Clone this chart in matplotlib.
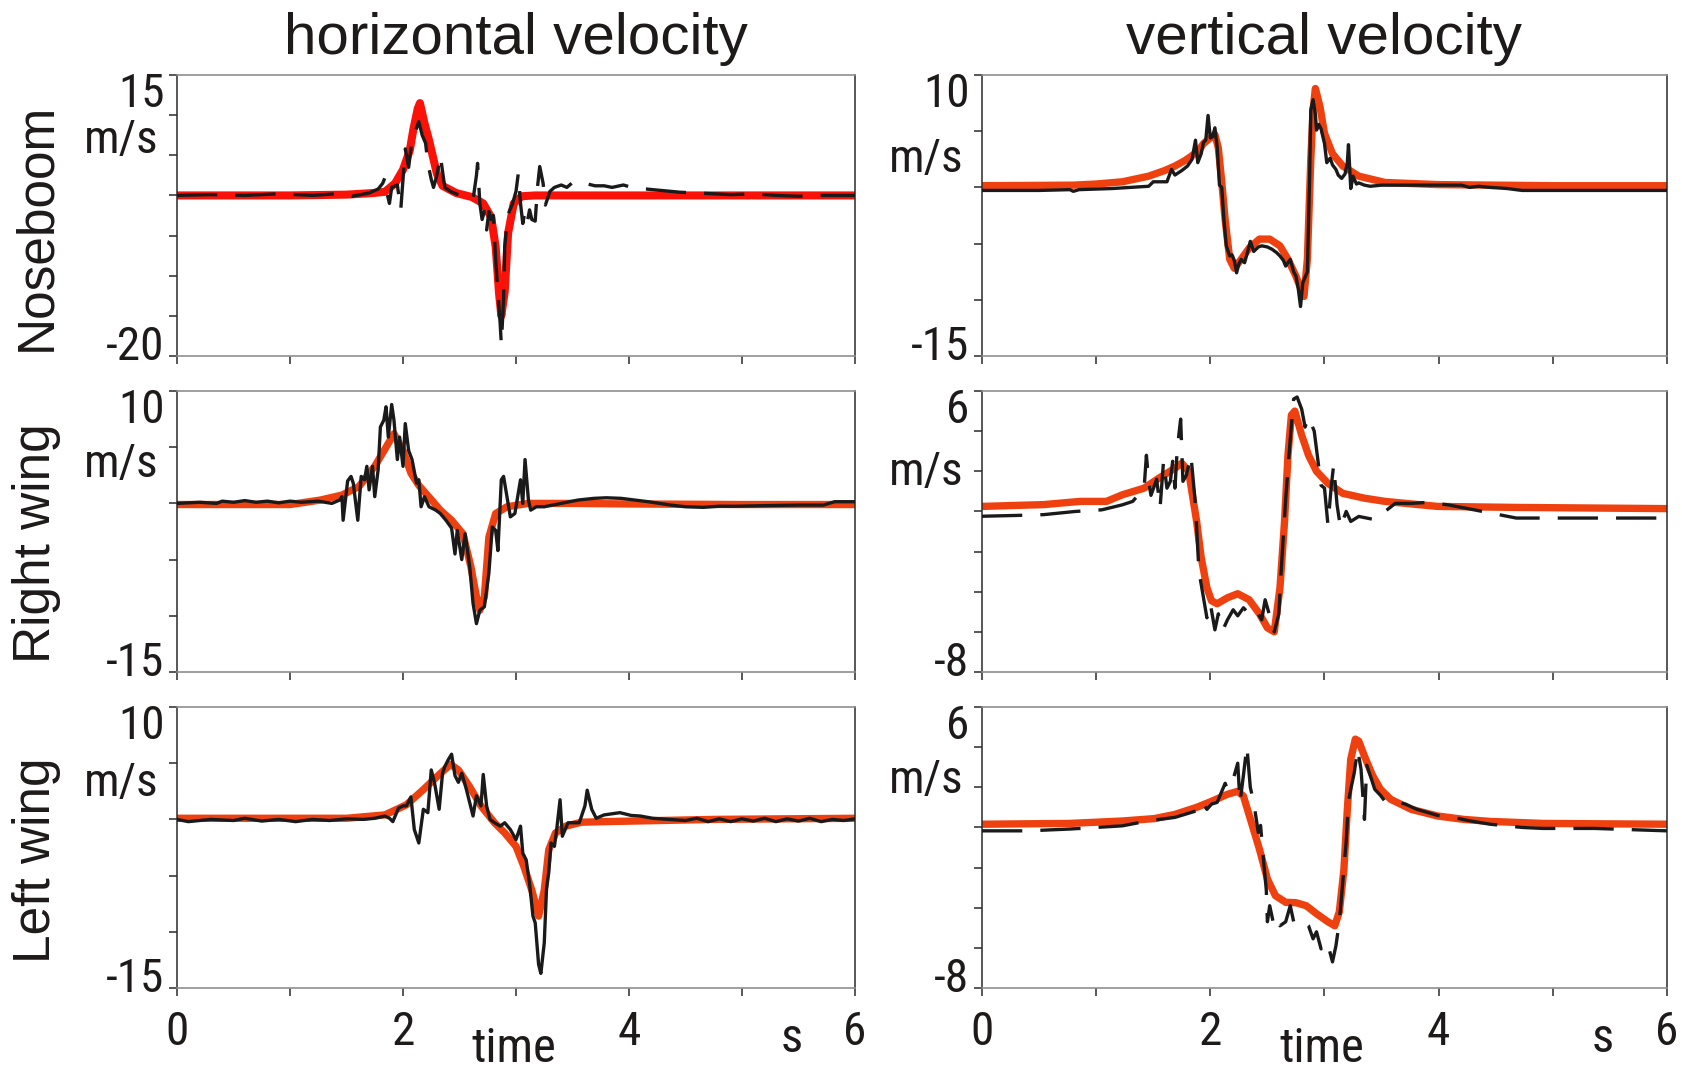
import matplotlib
matplotlib.use("Agg")
import matplotlib.pyplot as plt
import matplotlib.transforms as mtransforms

plt.rcParams["lines.scale_dashes"] = False
plt.rcParams["font.family"] = ["Liberation Sans", "DejaVu Sans"]

NARROW = ["Roboto Condensed", "Liberation Sans Narrow", "Liberation Sans", "DejaVu Sans"]
NUM_SIZE = 34
TEXT_COLOR = "#1e1a1a"

column_titles = ["horizontal velocity", "vertical velocity"]
row_labels = ["Noseboom", "Right wing", "Left wing"]
x_ticks = [0, 1, 2, 3, 4, 5, 6]
x_tick_labels = ["0", "", "2", "", "4", "", "6"]
unit_label = "m/s"
time_label = "time"
time_unit = "s"

# y ranges (bottom, top, step) per panel
nose_h_range = (-20, 15, 5)
nose_v_range = (-15, 10, 5)
right_h_range = (-15, 10, 5)
right_v_range = (-8, 6, 2)
left_h_range = (-15, 10, 5)
left_v_range = (-8, 6, 2)

# ---------------- Noseboom, horizontal ----------------
nose_h_model_t = [0, 1.0, 1.5, 1.74, 1.84, 1.93, 2.0, 2.06, 2.09, 2.13, 2.15, 2.19, 2.23, 2.30,
                  2.35, 2.47, 2.61, 2.71, 2.78, 2.82, 2.85, 2.87, 2.90, 2.93, 2.98, 3.05, 3.17,
                  3.5, 4.5, 6.0]
nose_h_model_v = [0, 0, 0.1, 0.3, 0.45, 1.5, 3.2, 5.6, 8.1, 10.8, 11.5, 9.0, 6.9, 2.7,
                  1.2, 0.3, -0.2, -1.0, -2.7, -6.4, -12.2, -15.0, -12.0, -4.7, -1.0, -0.1, 0,
                  0, 0, 0]
nose_h_meas_t = [0, 0.3, 0.6, 0.9, 1.2, 1.4, 1.55, 1.7, 1.78, 1.82, 1.84, 1.86, 1.88, 1.9, 1.95,
                 1.98, 2.0, 2.02, 2.05, 2.08, 2.11, 2.14, 2.17, 2.2, 2.22, 2.25, 2.27, 2.3, 2.33,
                 2.35, 2.37, 2.42, 2.47, 2.52, 2.58, 2.62, 2.65, 2.66, 2.68, 2.7, 2.72, 2.74,
                 2.76, 2.78, 2.8, 2.82, 2.84, 2.86, 2.87, 2.89, 2.9, 2.92, 2.94, 2.97, 3.0,
                 3.02, 3.04, 3.06, 3.08, 3.1, 3.12, 3.14, 3.17, 3.19, 3.21, 3.24, 3.26, 3.3,
                 3.34, 3.4, 3.45, 3.5, 3.55, 3.61, 3.7, 3.78, 3.85, 3.95, 4.05, 4.15, 4.3,
                 4.45, 4.6, 4.75, 4.9, 5.1, 5.3, 5.5, 5.7, 6.0]
nose_h_meas_v = [0, 0.1, 0, 0.2, 0, 0.2, -0.1, 0.3, 0.8, 1.5, 2.2, 0.2, -1.0, 1.0, 1.3,
                 -1.8, 2.0, 5.8, 3.5, 7.0, 8.0, 9.2, 7.5, 6.5, 4.0, 2.0, 1.0, 2.5, 5.0,
                 3.0, 1.0, 0.5, 0.2, -0.1, -0.3, -0.5, 2.5, 4.0, -1.0, -3.0, -2.0, -4.3,
                 -2.0, -3.0, -2.5, -8.0, -12.0, -16.0, -18.5, -13.0, -6.4, -3.5, -2.0, -1.0, 0.5,
                 2.7, -1.0, -3.5, -2.0, -3.3, -1.8, -3.0, -3.2, 1.0, 3.6, 1.5, -1.2, 0.5,
                 1.0, 1.3, 1.0, 1.6, 1.3, 1.5, 1.2, 1.2, 1.0, 1.3, 0.9, 0.8, 0.6,
                 0.4, 0.3, 0.2, 0.1, 0.2, 0, -0.1, 0, 0]

# ---------------- Noseboom, vertical ----------------
nose_v_model_t = [0, 0.8, 1.0, 1.23, 1.46, 1.6, 1.69, 1.78, 1.83, 1.90, 1.94, 2.0, 2.04, 2.07,
                  2.10, 2.13, 2.17, 2.21, 2.27, 2.34, 2.43, 2.52, 2.61, 2.68, 2.75, 2.80, 2.82,
                  2.85, 2.88, 2.90, 2.92, 2.96, 3.0, 3.07, 3.16, 3.3, 3.53, 3.99, 5.0, 6.0]
nose_v_model_v = [0.15, 0.2, 0.3, 0.5, 1.0, 1.5, 1.9, 2.4, 2.75, 3.3, 3.9, 4.4, 4.7, 3.5,
                  0.5, -2.9, -6.4, -7.2, -6.4, -5.4, -4.6, -4.6, -5.2, -6.4, -7.9, -9.2, -9.7,
                  -6.4, 2.5, 6.9, 8.8, 7.2, 4.8, 3.0, 1.9, 1.0, 0.44, 0.25, 0.15, 0.15]
nose_v_meas_t = [0, 0.5, 0.77, 0.8, 0.85, 1.14, 1.3, 1.46, 1.5, 1.62, 1.66, 1.69, 1.75, 1.8,
                 1.84, 1.87, 1.89, 1.92, 1.94, 1.96, 1.98, 2.0, 2.02, 2.04, 2.06, 2.08, 2.1,
                 2.12, 2.14, 2.17, 2.19, 2.21, 2.23, 2.25, 2.27, 2.3, 2.33, 2.35, 2.38, 2.42,
                 2.45, 2.5, 2.54, 2.58, 2.61, 2.64, 2.66, 2.7, 2.73, 2.75, 2.77, 2.79, 2.81,
                 2.83, 2.85, 2.87, 2.88, 2.9, 2.92, 2.93, 2.95, 2.97, 3.0, 3.02, 3.05, 3.07,
                 3.1, 3.12, 3.15, 3.18, 3.2, 3.21, 3.23, 3.25, 3.28, 3.3, 3.35, 3.4, 3.5,
                 3.7, 3.9, 4.2, 4.27, 4.35, 4.45, 4.6, 4.73, 5.0, 6.0]
nose_v_meas_v = [-0.27, -0.27, -0.2, -0.35, -0.2, -0.1, 0, 0.1, 0.5, 0.5, 1.6, 1.1, 1.5, 1.9,
                 2.5, 4.2, 2.2, 3.0, 4.0, 4.2, 6.4, 4.4, 4.5, 5.3, 3.6, 0.2, 0.0,
                 -3.0, -5.2, -6.1, -6.0, -6.5, -7.6, -6.8, -6.4, -6.7, -5.6, -4.8, -5.7, -5.3,
                 -5.2, -5.3, -5.5, -5.8, -6.1, -6.5, -7.0, -6.4, -7.5, -7.9, -9.0, -10.6, -8.5,
                 -8.0, -7.5, 1.0, 6.9, 7.8, 6.5, 5.1, 5.6, 5.2, 3.9, 2.2, 2.6, 2.0,
                 1.6, 1.1, 0.8, 1.2, 2.2, 3.8, -0.1, 1.0, 0.3, 0.4, 0.2, 0.1, 0.2,
                 0.2, 0.2, 0.2, 0.0, 0.1, 0.0, -0.1, -0.27, -0.27, -0.27]

# ---------------- Right wing, horizontal ----------------
right_h_model_t = [0, 1.0, 1.07, 1.27, 1.46, 1.61, 1.75, 1.85, 1.92, 2.0, 2.07, 2.14, 2.24,
                   2.33, 2.43, 2.53, 2.60, 2.65, 2.68, 2.72, 2.76, 2.82, 2.92, 3.11, 3.5, 4.0,
                   5.0, 6.0]
right_h_model_v = [-0.1, -0.1, 0, 0.3, 0.74, 1.5, 3.3, 5.0, 6.2, 4.7, 2.7, 1.6, 0.45,
                   -0.6, -1.5, -2.7, -5.6, -8.3, -9.5, -8.3, -3.0, -0.9, -0.3, 0, 0, -0.05,
                   -0.1, -0.1]
right_h_meas_t = [0, 0.2, 0.35, 0.4, 0.5, 0.6, 0.7, 0.8, 0.9, 1.0, 1.1, 1.25, 1.37, 1.44,
                  1.46, 1.47, 1.51, 1.54, 1.56, 1.6, 1.63, 1.66, 1.68, 1.7, 1.73, 1.75, 1.78,
                  1.8, 1.83, 1.85, 1.87, 1.9, 1.92, 1.95, 1.97, 2.0, 2.02, 2.05, 2.08, 2.12,
                  2.14, 2.16, 2.19, 2.23, 2.29, 2.33, 2.38, 2.43, 2.46, 2.48, 2.52, 2.55,
                  2.59, 2.62, 2.65, 2.68, 2.72, 2.76, 2.79, 2.82, 2.84, 2.87, 2.89, 2.92,
                  2.95, 2.99, 3.04, 3.06, 3.08, 3.11, 3.13, 3.18, 3.25, 3.4, 3.55, 3.69, 3.8,
                  3.93, 4.05, 4.17, 4.37, 4.5, 4.66, 4.8, 4.95, 5.2, 5.5, 5.72, 5.82, 6.0]
right_h_meas_v = [0, 0.1, 0, 0.2, 0.1, 0.25, 0.1, 0.2, 0.05, 0.2, 0.1, 0.2, 0.0, 0.3,
                  0.6, -1.5, 2.0, 2.4, 1.8, -1.5, 2.4, 2.1, 3.3, 1.2, 3.3, 0.6, 3.0,
                  6.8, 7.4, 8.6, 5.9, 8.8, 7.4, 3.9, 5.9, 3.3, 7.1, 4.7, 3.9, 1.8,
                  2.1, -0.3, 0.6, -0.3, -0.6, -0.9, -1.5, -2.2, -4.5, -2.4, -5.0, -2.7,
                  -5.6, -8.9, -10.7, -9.5, -9.2, -6.2, -2.1, -2.4, -4.2, 2.1, 2.4, 0.6,
                  -1.2, -0.9, 2.1, 0, 3.9, 0.3, -0.6, -0.3, -0.3, 0, 0.3, 0.45, 0.5,
                  0.45, 0.3, 0.15, -0.15, -0.3, -0.35, -0.25, -0.25, -0.2, -0.15, -0.15, 0.15, 0.15]

# ---------------- Right wing, vertical ----------------
right_v_model_t = [0, 0.54, 0.86, 1.09, 1.23, 1.42, 1.55, 1.69, 1.75, 1.81, 1.88, 1.92, 1.97,
                   2.01, 2.06, 2.15, 2.24, 2.34, 2.43, 2.50, 2.56, 2.61, 2.65, 2.68, 2.71,
                   2.74, 2.80, 2.86, 2.93, 3.03, 3.16, 3.35, 3.53, 3.99, 4.68, 6.0]
right_v_model_v = [0.25, 0.34, 0.5, 0.5, 0.83, 1.16, 1.66, 2.15, 2.4, 2.0, -0.5, -2.3, -3.8,
                   -4.45, -4.6, -4.3, -4.1, -4.4, -5.1, -5.8, -6.0, -3.8, -0.5, 2.8, 4.8,
                   5.0, 3.8, 2.8, 2.0, 1.4, 0.9, 0.66, 0.5, 0.25, 0.2, 0.14]
right_v_meas_t = [0, 0.3, 0.54, 0.82, 1.05, 1.23, 1.32, 1.42, 1.44, 1.46, 1.48, 1.53, 1.56,
                  1.59, 1.62, 1.65, 1.67, 1.69, 1.71, 1.74, 1.76, 1.79, 1.83, 1.87, 1.9,
                  1.94, 1.97, 2.0, 2.04, 2.07, 2.11, 2.15, 2.2, 2.24, 2.29, 2.34, 2.4, 2.45,
                  2.48, 2.52, 2.56, 2.6, 2.62, 2.66, 2.7, 2.73, 2.76, 2.8, 2.83, 2.86, 2.91,
                  2.93, 2.97, 3.0, 3.03, 3.06, 3.08, 3.11, 3.14, 3.19, 3.23, 3.3, 3.37, 3.44,
                  3.53, 3.62, 3.76, 3.9, 4.08, 4.31, 4.5, 4.68, 6.0]
right_v_meas_v = [-0.24, -0.2, -0.16, 0, 0.08, 0.33, 0.5, 1.16, 2.8, 1.5, 0.8, 1.6, 0.2,
                  2.5, 1.16, 1.5, 2.5, 1.16, 3.1, 4.6, 1.5, 1.8, 2.8, 0.33, -2.97,
                  -4.3, -5.3, -4.6, -5.9, -5.1, -5.9, -5.4, -4.9, -5.2, -4.8, -5.1, -4.9, -5.4,
                  -4.4, -5.2, -6.0, -5.1, -3.0, 0.6, 3.6, 5.6, 5.7, 5.1, 4.2, 4.7, 4.0,
                  3.1, 1.3, 1.16, -0.66, 1.3, 2.3, 0.33, -0.8, 0, -0.5, -0.25, -0.33, -0.41,
                  0, 0.4, 0.4, 0.45, 0.33, 0.08, -0.13, -0.33, -0.33]

# ---------------- Left wing, horizontal ----------------
left_h_model_t = [0, 1.5, 1.84, 2.03, 2.18, 2.30, 2.42, 2.49, 2.59, 2.69, 2.81, 2.90, 3.0,
                  3.07, 3.14, 3.20, 3.25, 3.29, 3.35, 3.44, 3.58, 3.78, 4.27, 4.75, 6.0]
left_h_model_v = [0.1, 0.1, 0.4, 1.3, 2.65, 3.8, 4.9, 4.4, 2.9, 1.2, -0.3, -1.2, -2.4,
                  -4.2, -6.3, -8.6, -6.3, -2.7, -1.2, -0.6, -0.25, -0.2, -0.1, 0, 0.1]
left_h_meas_t = [0, 0.1, 0.3, 0.5, 0.6, 0.75, 0.9, 1.05, 1.2, 1.35, 1.5, 1.65, 1.75, 1.84,
                 1.88, 1.91, 1.96, 2.0, 2.03, 2.07, 2.1, 2.14, 2.18, 2.22, 2.25, 2.28, 2.32,
                 2.35, 2.37, 2.4, 2.43, 2.46, 2.49, 2.52, 2.56, 2.59, 2.62, 2.65, 2.69, 2.71,
                 2.74, 2.77, 2.81, 2.86, 2.9, 2.95, 3.0, 3.04, 3.06, 3.09, 3.12, 3.15, 3.17,
                 3.2, 3.22, 3.25, 3.27, 3.29, 3.31, 3.34, 3.36, 3.39, 3.41, 3.46, 3.5, 3.56,
                 3.61, 3.63, 3.67, 3.71, 3.78, 3.85, 3.92, 4.02, 4.1, 4.21, 4.35, 4.5, 4.6,
                 4.7, 4.8, 4.9, 5.0, 5.1, 5.2, 5.3, 5.4, 5.5, 5.6, 5.7, 5.8, 5.9, 6.0]
left_h_meas_v = [0, -0.2, 0, -0.1, 0.1, -0.15, 0, -0.2, 0, -0.1, 0.05, 0, 0.1, 0.3,
                 0.1, -0.2, 1.0, 1.2, 1.2, 2.0, -0.9, -2.1, 0.9, 0.6, 4.4, 3.2, 0.9,
                 4.1, 4.7, 5.3, 5.8, 3.9, 3.3, 4.1, 2.7, 1.5, 0.3, 2.1, 1.2, 4.0,
                 1.2, 0, -0.3, -0.6, -0.3, -0.9, -1.8, -0.6, -3.0, -3.6, -5.7, -8.6, -9.2,
                 -12.9, -13.7, -11.0, -6.2, -4.7, -2.1, -2.4, -0.9, 1.75, -1.5, -0.3, -0.3, -0.3,
                 1.2, 2.6, 0.9, 0.1, 0.4, 0.5, 0.6, 0.35, 0.3, 0.1, 0, -0.1, 0.1,
                 -0.2, 0.05, -0.2, 0.05, -0.15, 0.1, -0.2, 0.05, -0.15, 0.1, -0.2, 0, -0.1, 0.05]

# ---------------- Left wing, vertical ----------------
left_v_model_t = [0, 0.77, 1.23, 1.51, 1.69, 1.88, 2.01, 2.15, 2.24, 2.29, 2.36, 2.43, 2.50,
                  2.57, 2.66, 2.75, 2.84, 2.93, 3.03, 3.09, 3.13, 3.17, 3.20, 3.23, 3.27,
                  3.30, 3.35, 3.42, 3.49, 3.58, 3.76, 3.99, 4.22, 4.45, 4.91, 6.0]
left_v_model_v = [0.16, 0.2, 0.32, 0.44, 0.65, 1.0, 1.3, 1.65, 1.8, 1.56, 0.24, -1.08, -2.57,
                  -3.4, -3.73, -3.75, -3.9, -4.3, -4.7, -4.9, -4.2, -2.1, 0.9, 3.4, 4.4,
                  4.3, 3.55, 2.6, 1.9, 1.4, 0.9, 0.57, 0.4, 0.3, 0.2, 0.16]
left_v_meas_t = [0, 0.4, 0.77, 1.0, 1.23, 1.46, 1.69, 1.88, 1.92, 1.97, 2.01, 2.06, 2.13,
                 2.15, 2.2, 2.24, 2.26, 2.29, 2.32, 2.35, 2.38, 2.42, 2.44, 2.47, 2.49, 2.5,
                 2.52, 2.55, 2.57, 2.61, 2.66, 2.7, 2.73, 2.77, 2.82, 2.86, 2.9, 2.93, 2.97,
                 3.0, 3.04, 3.07, 3.1, 3.13, 3.15, 3.19, 3.21, 3.23, 3.26, 3.29, 3.32, 3.35,
                 3.37, 3.4, 3.44, 3.49, 3.53, 3.62, 3.71, 3.81, 3.9, 3.99, 4.13, 4.27, 4.45,
                 4.73, 4.91, 5.37, 6.0]
left_v_meas_v = [-0.17, -0.17, -0.08, 0, 0.08, 0.33, 0.5, 0.83, 1.3, 0.9, 1.16, 1.25, 2.2,
                 1.9, 2.4, 3.2, 1.25, 2.6, 4.05, 2.0, 1.25, -0.25, 0.1, -1.9, -3.1, -4.7,
                 -3.9, -4.7, -4.4, -4.9, -4.7, -3.9, -4.7, -4.55, -4.7, -4.9, -5.55, -5.2, -6.05,
                 -5.7, -6.05, -6.7, -5.9, -4.7, -3.4, -0.7, 1.3, 1.9, 2.7, 3.9, 2.9, 0.4,
                 3.1, 2.6, 1.9, 1.6, 1.3, 1.3, 1.16, 0.9, 0.75, 0.6, 0.5, 0.33, 0.16,
                 0, -0.05, -0.05, -0.17]

RED = "#fa1208"
ORANGE = "#ef410f"
BLACK = "#1a1a1a"
DASH = (0, (29, 13))

panels = [
    # row, col, y-range, model t/v, measured t/v, model colour, measured style, m/s height
    (0, 0, nose_h_range, nose_h_model_t, nose_h_model_v, nose_h_meas_t, nose_h_meas_v, RED, DASH, 0.77),
    (0, 1, nose_v_range, nose_v_model_t, nose_v_model_v, nose_v_meas_t, nose_v_meas_v, ORANGE, "-", 0.70),
    (1, 0, right_h_range, right_h_model_t, right_h_model_v, right_h_meas_t, right_h_meas_v, ORANGE, "-", 0.74),
    (1, 1, right_v_range, right_v_model_t, right_v_model_v, right_v_meas_t, right_v_meas_v, ORANGE, DASH, 0.71),
    (2, 0, left_h_range, left_h_model_t, left_h_model_v, left_h_meas_t, left_h_meas_v, ORANGE, "-", 0.73),
    (2, 1, left_v_range, left_v_model_t, left_v_model_v, left_v_meas_t, left_v_meas_v, ORANGE, DASH, 0.74),
]

W, H = 1683, 1070
fig = plt.figure(figsize=(W / 100, H / 100), dpi=100)

col_x = [(177, 855), (982, 1667)]
row_y = [(75, 356), (391, 672), (707, 988)]

for row, col, yr, mt, mv, st, sv, mcol, mstyle, unit_frac in panels:
    x0, x1 = col_x[col]
    y0, y1 = row_y[row]
    ax = fig.add_axes([x0 / W, 1 - y1 / H, (x1 - x0) / W, (y1 - y0) / H])
    ymin, ymax, step = yr
    ax.set_xlim(0, 6)
    ax.set_ylim(ymin, ymax)

    ax.plot(mt, mv, color=mcol, lw=5.8 if row == 0 and col == 0 else 5.3,
            solid_capstyle="round", zorder=2)
    ax.plot(st, sv, color=BLACK, lw=2.4, linestyle=mstyle, zorder=3)

    for side in ("top", "bottom"):
        ax.spines[side].set_color("#8f8f8f")
        ax.spines[side].set_linewidth(1.2)
    for side in ("left", "right"):
        ax.spines[side].set_color("#2a2a2a")
        ax.spines[side].set_linewidth(1.1)

    yt = list(range(ymin, ymax + 1, step))
    ax.set_yticks(yt)
    ax.set_yticklabels([])
    ax.set_xticks(x_ticks)
    ax.tick_params(axis="both", direction="out", length=6, width=1.1, color="#2a2a2a")

    # only the extreme values are labelled on the y axis
    ax.annotate(str(ymax), xy=(0, ymax), xycoords="data", xytext=(-9, -23),
                textcoords="offset points", ha="right", va="baseline",
                fontsize=NUM_SIZE, family=NARROW, color=TEXT_COLOR, annotation_clip=False)
    ax.annotate(str(ymin), xy=(0, ymin), xycoords="data", xytext=(-9, -3),
                textcoords="offset points", ha="right", va="baseline",
                fontsize=NUM_SIZE, family=NARROW, color=TEXT_COLOR, annotation_clip=False)
    ax.annotate(unit_label, xy=(0, unit_frac), xycoords="axes fraction", xytext=(-40, 0),
                textcoords="offset points", ha="center", va="center",
                fontsize=NUM_SIZE, family=NARROW, color=TEXT_COLOR, annotation_clip=False)

    if row == 2:
        ax.set_xticklabels(x_tick_labels, fontsize=NUM_SIZE, family=NARROW, color=TEXT_COLOR)
        ax.tick_params(axis="x", pad=10)
        trans = mtransforms.blended_transform_factory(ax.transData, ax.transAxes)
        ax.annotate(time_unit, xy=(5.44, 0), xycoords=trans, xytext=(0, -46),
                    textcoords="offset points", ha="center", va="baseline",
                    fontsize=NUM_SIZE + 1, family=NARROW, color=TEXT_COLOR, annotation_clip=False)
        ax.annotate(time_label, xy=(2.98, 0), xycoords=trans, xytext=(0, -53),
                    textcoords="offset points", ha="center", va="baseline",
                    fontsize=NUM_SIZE + 1, family=NARROW, color=TEXT_COLOR, annotation_clip=False)
    else:
        ax.set_xticklabels([])

    if row == 0:
        fig.text(((x0 + x1) / 2) / W, 1 - 54 / H, column_titles[col], ha="center",
                 va="baseline", fontsize=42, color=TEXT_COLOR)

for label, yc in zip(row_labels, [227, 543, 860]):
    fig.text(37 / W, 1 - yc / H, label, rotation=90, ha="center", va="center",
             fontsize=37, color=TEXT_COLOR)

fig.savefig("out.png", dpi=100)
